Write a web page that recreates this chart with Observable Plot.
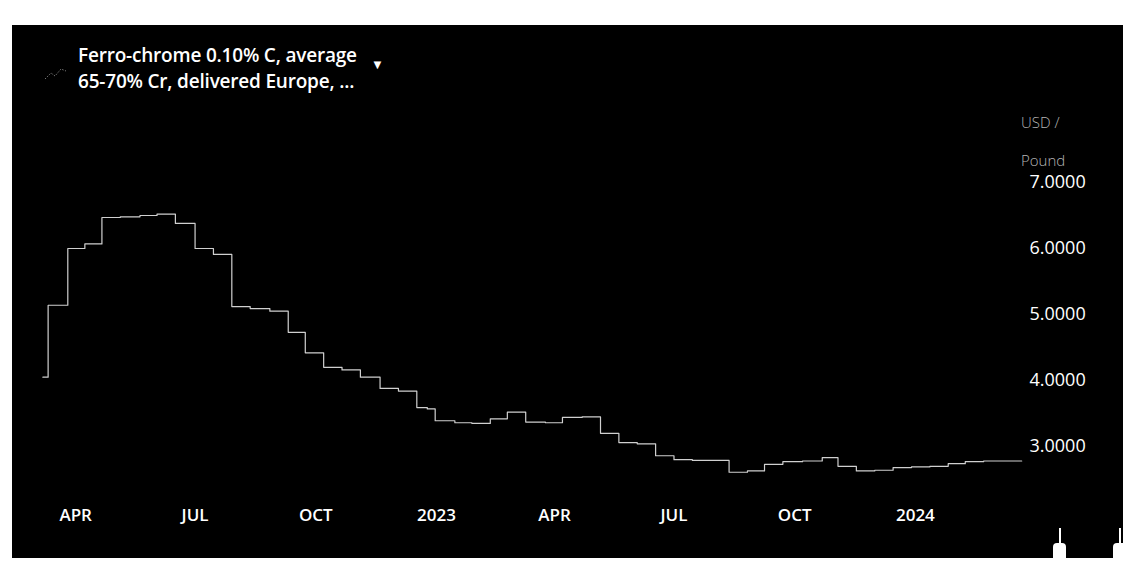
<!DOCTYPE html>
<html>
<head>
<meta charset="utf-8">
<script src="https://cdn.jsdelivr.net/npm/d3@7"></script>
<script src="https://cdn.jsdelivr.net/npm/@observablehq/plot@0.6"></script>
<style>
  html, body { margin: 0; padding: 0; background: #fff; }
  body { width: 1123px; height: 566px; position: relative; overflow: hidden; font-family: "Open Sans", sans-serif; }
  #panel { position: absolute; left: 12px; top: 25px; width: 1111px; height: 533px; background: #000; overflow: hidden; }
  #chart { position: absolute; left: 0; top: 0; }
  #legend { position: absolute; left: 66px; top: 17px; color: #fff; font-size: 19px; font-weight: 600; line-height: 26px; letter-spacing: -0.2px; }
  #icon { position: absolute; left: 32px; top: 40px; }
  #caret { position: absolute; left: 359px; top: 30px; color: #fff; font-size: 13px; }
  #unit { position: absolute; left: 1009px; top: 78px; color: #b5b5b5; font-size: 15px; font-weight: 300; line-height: 38px; }
  .blob { position: absolute; background: #fff; }
</style>
</head>
<body>
<div id="panel">
  <div id="chart"></div>
  <svg id="icon" width="24" height="16"><path d="M1,14 L7,8 L11,11 L17,4 L22,6" fill="none" stroke="#777" stroke-width="1" stroke-dasharray="1.5,1.5"/></svg>
  <div id="legend">Ferro-chrome 0.10% C, average<br>65-70% Cr, delivered Europe, ...</div>
  <div id="caret">&#9660;</div>
  <div id="unit">USD /<br>Pound</div>
</div>
<div class="blob" style="left:1053px; top:543px; width:13px; height:23px; border-radius:4px 4px 0 0;"></div>
<div class="blob" style="left:1059px; top:528px; width:2px; height:16px;"></div>
<div class="blob" style="left:1113px; top:543px; width:10px; height:23px; border-radius:4px 0 0 0;"></div>
<div class="blob" style="left:1119px; top:528px; width:2px; height:16px;"></div>
<script>
const dates = [
  "2022-03-07","2022-03-11","2022-03-26","2022-04-08","2022-04-21","2022-05-05","2022-05-20","2022-06-02",
  "2022-06-16","2022-07-01","2022-07-15","2022-07-29","2022-08-12","2022-08-27","2022-09-10","2022-09-23",
  "2022-10-07","2022-10-21","2022-11-04","2022-11-19","2022-12-03","2022-12-17","2022-12-25","2022-12-31",
  "2023-01-15","2023-01-28","2023-02-11","2023-02-24","2023-03-10","2023-03-25","2023-04-07","2023-04-22",
  "2023-05-06","2023-05-20","2023-06-03","2023-06-17","2023-07-01","2023-07-15","2023-07-29","2023-08-12",
  "2023-08-26","2023-09-08","2023-09-22","2023-10-07","2023-10-22","2023-11-03","2023-11-17","2023-12-01",
  "2023-12-15","2023-12-29","2024-01-12","2024-01-26","2024-02-08","2024-02-22","2024-03-08","2024-03-22"
];
const prices = [
  4.05, 5.14, 6.00, 6.07, 6.47, 6.48, 6.50, 6.52,
  6.38, 6.00, 5.91, 5.12, 5.09, 5.05, 4.73, 4.42,
  4.20, 4.16, 4.05, 3.88, 3.84, 3.59, 3.57, 3.39,
  3.36, 3.35, 3.42, 3.52, 3.37, 3.36, 3.44, 3.45,
  3.20, 3.06, 3.04, 2.86, 2.80, 2.79, 2.79, 2.61,
  2.63, 2.73, 2.77, 2.78, 2.83, 2.70, 2.63, 2.64,
  2.68, 2.69, 2.70, 2.74, 2.77, 2.78, 2.78, 2.78
];
const yTicks = [3, 4, 5, 6, 7];
const xTickDates = ["2022-04-01","2022-07-01","2022-10-01","2023-01-01","2023-04-01","2023-07-01","2023-10-01","2024-01-01"];
const xTickLabels = ["APR","JUL","OCT","2023","APR","JUL","OCT","2024"];

const parse = d3.utcParse("%Y-%m-%d");
const data = dates.map((d, i) => ({date: parse(d), price: prices[i]}));
const xTicks = xTickDates.map(parse);
const labelOf = new Map(xTicks.map((d, i) => [+d, xTickLabels[i]]));

const W = 1111, H = 533;
const chart = Plot.plot({
  width: W,
  height: H,
  marginTop: 0,
  marginBottom: 62,
  marginLeft: 22,
  marginRight: 95,
  style: {background: "#000", color: "#fff", fontFamily: "Open Sans, sans-serif", overflow: "visible"},
  x: {type: "utc", domain: [parse("2022-03-01"), parse("2024-04-01")], range: [22.5, 1022.3]},
  y: {domain: [3, 7], range: [421, 157]},
  marks: [
    Plot.axisY({anchor: "right", ticks: yTicks, tickSize: 0, tickPadding: 1, tickFormat: d => d.toFixed(4),
      fontSize: 18, fill: "#fff", label: null}),
    Plot.axisX({anchor: "bottom", ticks: xTicks, tickSize: 0, tickPadding: 12, tickFormat: d => labelOf.get(+d),
      fontSize: 17, fontWeight: 600, fill: "#fff", label: null}),
    Plot.line(data, {x: "date", y: "price", curve: "step-after", stroke: "#d0d0d0", strokeWidth: 1.2})
  ]
});
document.getElementById("chart").appendChild(chart);
</script>
</body>
</html>
